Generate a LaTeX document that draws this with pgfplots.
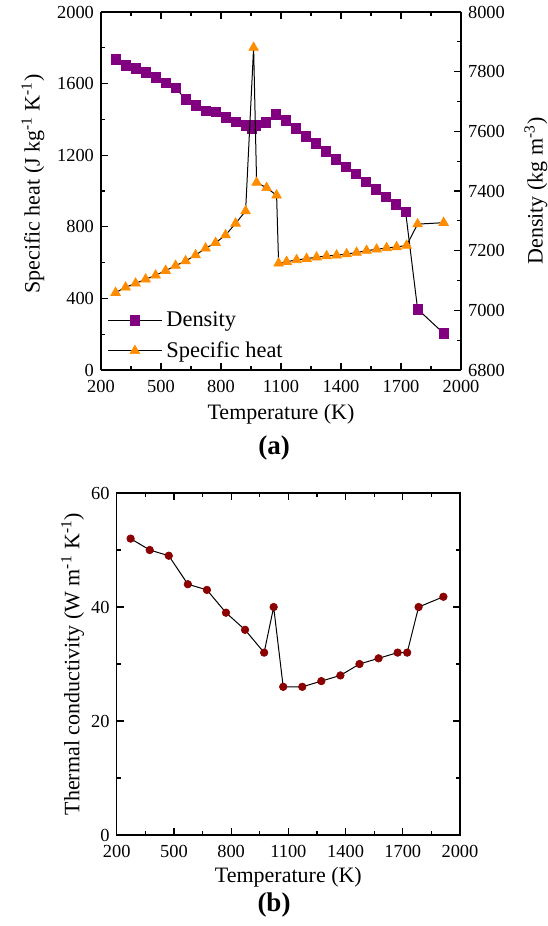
\documentclass[border=0pt]{standalone}
\usepackage{fontspec}
\setmainfont{Liberation Serif}
\usepackage{pgfplots}
\pgfplotsset{compat=1.18}
\definecolor{dens}{HTML}{800080}
\definecolor{cpc}{HTML}{FF8C00}
\definecolor{tcc}{HTML}{8B0000}
\pgfplotsset{
 myax/.style={
  scale only axis,
  /pgf/number format/assume math mode=true,
  /pgf/number format/1000 sep={},
  tick align=inside,
  major tick length=3.5pt, minor tick length=2pt,
  every tick/.style={black, line width=0.6pt},
  axis line style={line width=0.75pt},
  tick label style={font=\fontsize{9.2}{10}\selectfont},
  xticklabel style={yshift=-1.5pt},
  label style={font=\fontsize{11}{12}\selectfont},
  xmin=200, xmax=2000, xtick={200,500,...,2000}, minor x tick num=1,
 },
 legend image code/.code={\draw[mark repeat=2,mark phase=2] plot coordinates {(0pt,0pt) (13.5pt,0pt) (27pt,0pt)};},
}
\begin{document}
\begin{tikzpicture}
\path[use as bounding box] (0,0) rectangle (273.5pt,-463pt);
% ---------- panel (a): density (right axis)
\begin{axis}[myax, at={(50.5pt,-185pt)}, anchor=south west, width=180pt, height=179pt,
  axis y line*=right, axis x line=none,
  ymin=6800, ymax=8000, ytick={6800,7000,...,8000}, minor y tick num=1,
  ylabel={Density (kg m\textsuperscript{-3})},
  ylabel style={at={(axis description cs:1.208,0.5)}, anchor=center, rotate=0},
]
\addplot[black, line width=0.5pt, mark=square*, mark size=2.4pt, mark options={draw=dens, fill=dens, line width=0.3pt, solid}] coordinates {
(273,7841) (323,7822) (373,7811) (423,7797) (473,7781) (523,7763) (573,7746) (623,7707) (673,7688) (723,7669) (773,7665) (823,7647) (873,7632) (923,7621) (953,7610) (973,7620) (1023,7630) (1073,7657) (1123,7637) (1173,7610) (1223,7584) (1273,7560) (1323,7534) (1373,7506) (1423,7481) (1473,7457) (1523,7431) (1573,7406) (1623,7381) (1673,7355) (1723,7330) (1783,7004) (1913,6923)
};
\end{axis}
% ---------- panel (a): specific heat (left axis)
\begin{axis}[myax, at={(50.5pt,-185pt)}, anchor=south west, width=180pt, height=179pt,
  axis y line*=left,
  ymin=0, ymax=2000, ytick={0,400,...,2000}, minor y tick num=1,
  xlabel={Temperature (K)},
  xlabel style={at={(axis description cs:0.5,-0.123)}, anchor=center},
  ylabel={Specific heat (J kg\textsuperscript{-1} K\textsuperscript{-1})},
  ylabel style={at={(axis description cs:-0.189,0.52)}, anchor=center},
  legend style={draw=none, fill=none, at={(axis description cs:0,0.004)}, anchor=south west,
    font=\fontsize{11.2}{12}\selectfont, row sep=2pt},
  legend cell align=left,
]
\addlegendimage{black, line width=0.5pt, mark=square*, mark size=2.4pt, mark options={draw=dens, fill=dens, line width=0.3pt, solid}}
\addlegendentry{Density}
\addplot[black, line width=0.5pt, mark=triangle*, mark size=2.8pt, mark options={draw=cpc, fill=cpc, line width=0.3pt, solid}] coordinates {
(273,432) (323,462) (373,484) (423,507) (473,529) (523,555) (573,583) (623,609) (673,642) (723,680) (773,711) (823,754) (873,819) (923,888) (963,1801) (978,1047) (1028,1018) (1078,976) (1088,596) (1128,605) (1178,615) (1228,622) (1278,630) (1328,637) (1378,641) (1428,648) (1478,656) (1528,667) (1578,674) (1628,682) (1678,687) (1728,696) (1783,815) (1913,823)
};
\addlegendentry{Specific heat}
\end{axis}
\node[font=\bfseries\fontsize{13.5}{15}\selectfont] at (137pt,-224pt) {(a)};
% ---------- panel (b)
\begin{axis}[myax, at={(58.35pt,-417.5pt)}, anchor=south west, width=171.65pt, height=171pt,
  ymin=0, ymax=60, ytick={0,20,40,60}, minor y tick num=1,
  xlabel={Temperature (K)},
  xlabel style={at={(axis description cs:0.5,-0.123)}, anchor=center},
  ylabel={Thermal conductivity (W m\textsuperscript{-1} K\textsuperscript{-1})},
  ylabel style={at={(axis description cs:-0.128,0.5)}, anchor=center},
]
\addplot[black, line width=0.5pt, mark=*, mark size=1.9pt, mark options={draw=tcc, fill=tcc, line width=0.3pt, solid}] coordinates {
(273,52) (373,50) (473,49) (573,44) (673,43) (773,39) (873,36) (973,32) (1023,40) (1073,26) (1173,26) (1273,27) (1373,28) (1473,30) (1573,31) (1673,32) (1723,32) (1783,40) (1913,41.8)
};
\end{axis}
\node[font=\bfseries\fontsize{13.5}{15}\selectfont] at (137pt,-452.5pt) {(b)};
\end{tikzpicture}
\end{document}
